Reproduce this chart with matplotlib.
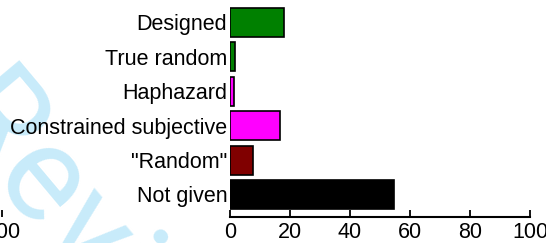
import matplotlib
matplotlib.use("Agg")
import matplotlib.pyplot as plt

plt.rcParams['font.family'] = ['Liberation Sans', 'DejaVu Sans']

# data, bottom to top
categories = ['Not given', '"Random"', 'Constrained subjective',
              'Haphazard', 'True random', 'Designed']
values = [54.5, 7.7, 16.7, 1.4, 1.5, 18.1]
colors = ['#000000', '#800000', '#ff00ff', '#ff00ff', '#008000', '#008000']
xticks = [0, 20, 40, 60, 80, 100]

W, H = 546, 243
fs = 15.5
fig = plt.figure(figsize=(W / 100, H / 100), dpi=100)

# watermark
fig.text(100 / W, 1 - 262 / H, 'Review', fontsize=98, color='#c8ebfa', rotation=-50,
         family=['Roboto', 'DejaVu Sans'],
         ha='center', va='center', rotation_mode='anchor', zorder=-1)

# main panel
ax = fig.add_axes([230 / W, 1 - 216.7 / H, 300 / W, 216 / H])
pos = list(range(len(categories)))
ax.barh(pos, values, height=0.84, color=colors, edgecolor='black', linewidth=1.2)
ax.set_xlim(0, 100)
ax.set_ylim(-0.645, 5.63)
ax.set_yticks(pos)
ax.set_yticklabels(categories, fontsize=fs)
ax.set_xticks(xticks)
ax.set_xticklabels([str(t) for t in xticks], fontsize=fs)
ax.tick_params(axis='y', length=0, pad=2)
ax.tick_params(axis='x', direction='in', length=5, width=1.3, pad=4)
for s in ['top', 'right', 'left']:
    ax.spines[s].set_visible(False)
ax.spines['bottom'].set_linewidth(1.5)
ax.patch.set_visible(False)

# remains of the neighbouring panel on the left
ax0 = fig.add_axes([-300 / W, 1 - 216.7 / H, 302 / W, 216 / H])
ax0.set_xlim(0, 100)
ax0.set_xticks([100])
ax0.set_xticklabels(['100'], fontsize=fs)
ax0.set_yticks([])
ax0.tick_params(axis='x', direction='in', length=5, width=1.3, pad=4)
for s in ['top', 'right', 'left', 'bottom']:
    ax0.spines[s].set_visible(False)
ax0.patch.set_visible(False)

fig.savefig('out.png', dpi=100)
